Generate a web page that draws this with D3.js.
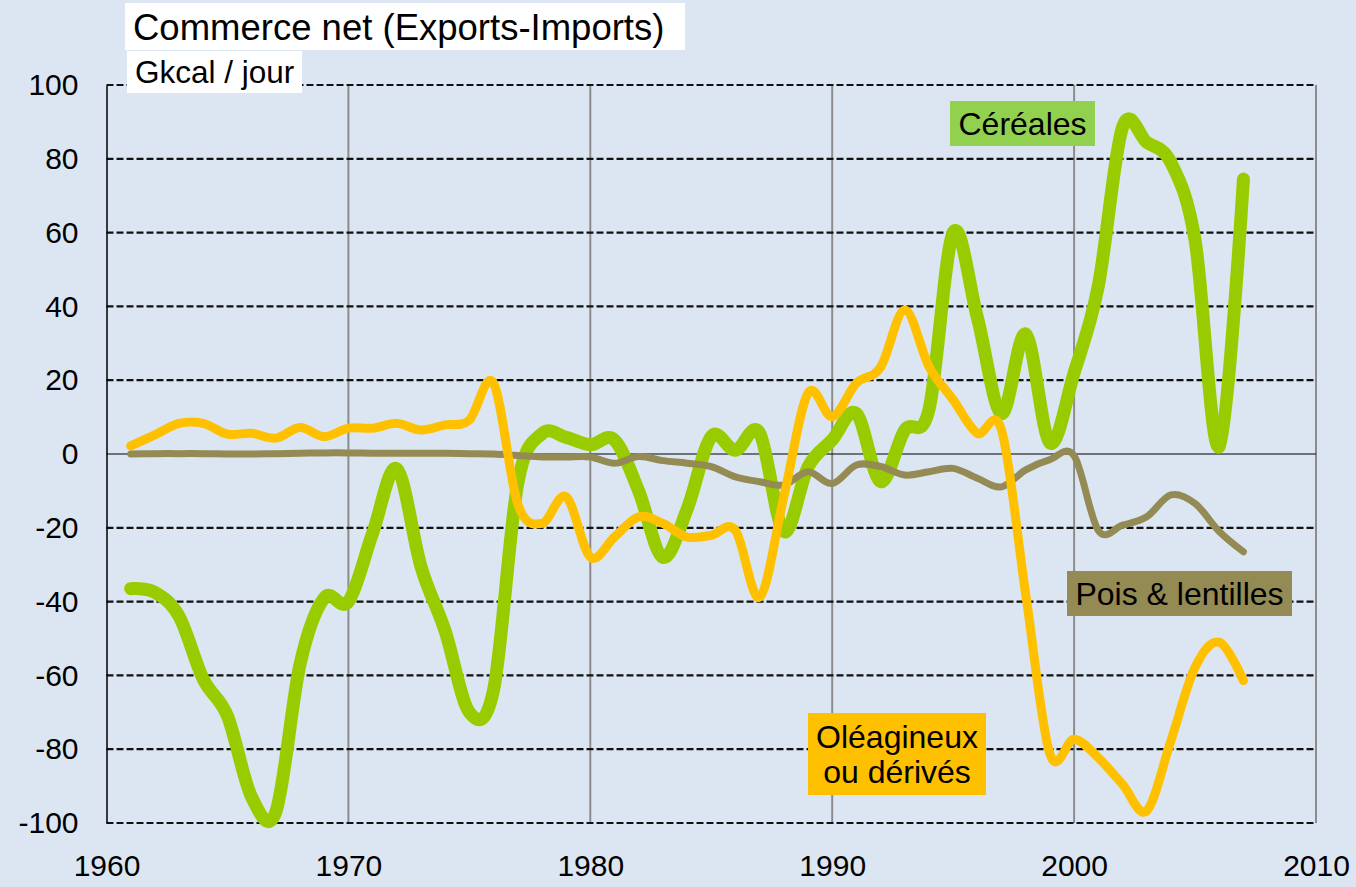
<!DOCTYPE html>
<html>
<head>
<meta charset="utf-8">
<script src="https://cdn.jsdelivr.net/npm/d3@7"></script>
<style>
  body { margin: 0; background: #dce6f2; }
  svg { display: block; font-family: 'Liberation Sans', Arial, sans-serif; }
</style>
</head>
<body>
<svg width="1356" height="887"></svg>
<script>
const years = d3.range(1961, 2008);

const cereales = [-36.5, -37.5, -44, -61, -71, -93, -97, -57, -39, -40,
  -21.5, -4, -30.5, -48, -70, -64, -8, 5.5, 4.5, 2.5,
  3.8, -10, -28, -15, 4.7, 1, 5.7, -21, -3.5, 3.8,
  11, -7.5, 6.5, 12, 60, 37, 11, 32.5, 3, 22,
  45.5, 88.5, 84.5, 79, 58, 2, 74.5];

const oleagineux = [2.2, 5.2, 8.3, 8.3, 5.4, 5.6, 4.3, 7.2, 4.7, 7,
  7, 8.3, 6.5, 7.9, 9.2, 19.2, -13.5, -18.8, -11.6, -27.9,
  -22.5, -17, -18.8, -22.5, -22, -20.7, -38.8, -11.6, 16.5, 10.1,
  19.2, 23.5, 39, 23.7, 14.7, 5.6, 6.5, -38, -81.3, -77.3,
  -82.3, -89.5, -96.7, -77.7, -57.8, -51, -61.4];

const pois = [0, 0.1, 0.1, 0.1, 0, 0, 0.1, 0.2, 0.3, 0.3,
  0.2, 0.2, 0.2, 0.2, 0.1, 0, -0.4, -0.8, -0.8, -0.8,
  -2.5, -0.7, -1.8, -2.5, -3.4, -6.2, -7.5, -8.4, -4.8, -8,
  -3, -3.4, -5.7, -4.8, -3.9, -6.6, -8.9, -4.3, -1.5, -0.5,
  -20.7, -19.3, -17, -11.1, -13.4, -21, -26.5];

const yTicks = [100, 80, 60, 40, 20, 0, -20, -40, -60, -80, -100];
const xTicks = [1960, 1970, 1980, 1990, 2000, 2010];

const svg = d3.select('svg');
const margin = { top: 85, right: 40, bottom: 64, left: 106.5 };
const width = 1356;
const height = 887;

const x = d3.scaleLinear()
  .domain([1960, 2010])
  .range([margin.left, width - margin.right]);

const y = d3.scaleLinear()
  .domain([-100, 100])
  .range([height - margin.bottom, margin.top]);

// vertical grid (solid grey)
svg.append('g')
  .selectAll('line')
  .data(xTicks.slice(1))
  .enter()
  .append('line')
  .attr('x1', d => x(d))
  .attr('x2', d => x(d))
  .attr('y1', y(100))
  .attr('y2', y(-100))
  .attr('stroke', '#8c8c8c')
  .attr('stroke-width', 2);

// horizontal grid (dashed black)
svg.append('g')
  .selectAll('line')
  .data(yTicks.filter(d => d !== 0))
  .enter()
  .append('line')
  .attr('x1', x(1960))
  .attr('x2', x(2010))
  .attr('y1', d => y(d))
  .attr('y2', d => y(d))
  .attr('stroke', '#111')
  .attr('stroke-width', 2.2)
  .attr('stroke-dasharray', '7,3');

// zero line
svg.append('line')
  .attr('x1', x(1960))
  .attr('x2', x(2010))
  .attr('y1', y(0))
  .attr('y2', y(0))
  .attr('stroke', '#000')
  .attr('stroke-width', 1.2);

// left axis
const yAxis = svg.append('g')
  .attr('transform', `translate(${margin.left},0)`)
  .call(d3.axisLeft(y).tickValues(yTicks).tickSize(0).tickPadding(28).tickFormat(d => String(d)));
yAxis.select('.domain').attr('stroke', '#000').attr('stroke-width', 1.5);
yAxis.selectAll('text')
  .attr('font-size', 30)
  .attr('font-family', "'Liberation Sans', Arial, sans-serif")
  .attr('fill', '#000');

// bottom labels
const xAxis = svg.append('g')
  .attr('transform', `translate(0,${y(-100)})`)
  .call(d3.axisBottom(x).tickValues(xTicks).tickSize(0).tickPadding(32).tickFormat(d => String(d)));
xAxis.select('.domain').remove();
xAxis.selectAll('text')
  .attr('font-size', 30)
  .attr('font-family', "'Liberation Sans', Arial, sans-serif")
  .attr('fill', '#000');

const line = d3.line()
  .x((d, i) => x(years[i]))
  .y(d => y(d))
  .curve(d3.curveCardinal.tension(0));

svg.append('path')
  .datum(cereales)
  .attr('d', line)
  .attr('fill', 'none')
  .attr('stroke', '#99cc00')
  .attr('stroke-width', 13)
  .attr('stroke-linecap', 'round')
  .attr('stroke-linejoin', 'round');

svg.append('path')
  .datum(pois)
  .attr('d', line)
  .attr('fill', 'none')
  .attr('stroke', '#948a54')
  .attr('stroke-width', 7)
  .attr('stroke-linecap', 'round')
  .attr('stroke-linejoin', 'round');

svg.append('path')
  .datum(oleagineux)
  .attr('d', line)
  .attr('fill', 'none')
  .attr('stroke', '#ffc000')
  .attr('stroke-width', 9)
  .attr('stroke-linecap', 'round')
  .attr('stroke-linejoin', 'round');

// title boxes
svg.append('rect').attr('x', 125).attr('y', 3).attr('width', 560).attr('height', 47).attr('fill', '#fff');
svg.append('text').attr('x', 133).attr('y', 40).attr('font-size', 36.5).text('Commerce net (Exports-Imports)');

svg.append('rect').attr('x', 127).attr('y', 51).attr('width', 175).attr('height', 42).attr('fill', '#fff');
svg.append('text').attr('x', 135).attr('y', 83).attr('font-size', 31.5).text('Gkcal / jour');

// series labels
svg.append('rect').attr('x', 950).attr('y', 101).attr('width', 145).attr('height', 45).attr('fill', '#92d050');
svg.append('text').attr('x', 1022.5).attr('y', 135).attr('font-size', 32).attr('text-anchor', 'middle').text('Céréales');

svg.append('rect').attr('x', 1067).attr('y', 571).attr('width', 225).attr('height', 45).attr('fill', '#948a54');
svg.append('text').attr('x', 1179.5).attr('y', 605).attr('font-size', 32).attr('text-anchor', 'middle').text('Pois & lentilles');

svg.append('rect').attr('x', 808).attr('y', 713).attr('width', 178).attr('height', 82).attr('fill', '#ffc000');
svg.append('text').attr('x', 897).attr('y', 748).attr('font-size', 32).attr('text-anchor', 'middle').text('Oléagineux');
svg.append('text').attr('x', 897).attr('y', 783).attr('font-size', 32).attr('text-anchor', 'middle').text('ou dérivés');
</script>
</body>
</html>
